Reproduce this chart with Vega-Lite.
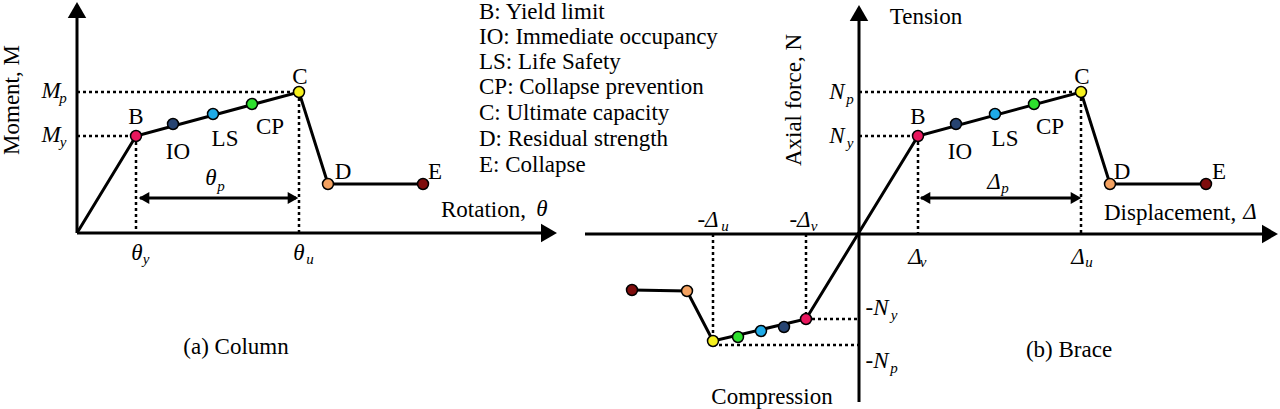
{
  "$schema": "https://vega.github.io/schema/vega-lite/v6.json",
  "width": 1280,
  "height": 409,
  "autosize": "none",
  "padding": 0,
  "background": "white",
  "config": {"view": {"stroke": null}, "text": {"font": "Times New Roman, Liberation Serif, serif"}},
  "datasets": {
    "curve": [
      {"series": "col", "order": 1, "x": 77, "y": 233},
      {"series": "col", "order": 2, "x": 136, "y": 136},
      {"series": "col", "order": 3, "x": 299, "y": 92},
      {"series": "col", "order": 4, "x": 328, "y": 184},
      {"series": "col", "order": 5, "x": 423, "y": 184},
      {"series": "brace", "order": 1, "x": 632, "y": 290},
      {"series": "brace", "order": 2, "x": 687, "y": 291},
      {"series": "brace", "order": 3, "x": 713, "y": 341},
      {"series": "brace", "order": 4, "x": 806, "y": 319},
      {"series": "brace", "order": 5, "x": 918, "y": 136},
      {"series": "brace", "order": 6, "x": 1081, "y": 92},
      {"series": "brace", "order": 7, "x": 1110, "y": 184},
      {"series": "brace", "order": 8, "x": 1206, "y": 184}
    ],
    "axes": [
      {"x": 77, "y": 233, "x2": 77, "y2": 14},
      {"x": 77, "y": 233, "x2": 545, "y2": 233},
      {"x": 585, "y": 234, "x2": 1266, "y2": 234},
      {"x": 859, "y": 402, "x2": 859, "y2": 16}
    ],
    "heads": [
      {"x": 77, "y": 10, "dir": "up"},
      {"x": 549, "y": 233, "dir": "right"},
      {"x": 859, "y": 13, "dir": "up"},
      {"x": 1270, "y": 234, "dir": "right"}
    ],
    "dotted": [
      {"x": 77, "y": 92, "x2": 299, "y2": 92},
      {"x": 77, "y": 136, "x2": 136, "y2": 136},
      {"x": 136, "y": 136, "x2": 136, "y2": 233},
      {"x": 299, "y": 92, "x2": 299, "y2": 233},
      {"x": 859, "y": 92, "x2": 1081, "y2": 92},
      {"x": 859, "y": 136, "x2": 918, "y2": 136},
      {"x": 918, "y": 136, "x2": 918, "y2": 234},
      {"x": 1081, "y": 92, "x2": 1081, "y2": 234},
      {"x": 713, "y": 234, "x2": 713, "y2": 341},
      {"x": 806, "y": 234, "x2": 806, "y2": 319},
      {"x": 806, "y": 319, "x2": 858, "y2": 319},
      {"x": 713, "y": 345, "x2": 858, "y2": 345}
    ],
    "dims": [
      {"x": 140, "y": 198, "x2": 296, "y2": 198},
      {"x": 921, "y": 198, "x2": 1078, "y2": 198}
    ],
    "dimheads": [
      {"x": 144, "y": 198, "dir": "left"},
      {"x": 293, "y": 198, "dir": "right"},
      {"x": 925, "y": 198, "dir": "left"},
      {"x": 1076, "y": 198, "dir": "right"}
    ],
    "points": [
      {"state": "B", "x": 136, "y": 136},
      {"state": "IO", "x": 173, "y": 124},
      {"state": "LS", "x": 213, "y": 114},
      {"state": "CP", "x": 252, "y": 104},
      {"state": "C", "x": 299, "y": 92},
      {"state": "D", "x": 328, "y": 184},
      {"state": "E", "x": 423, "y": 184},
      {"state": "B", "x": 918, "y": 136},
      {"state": "IO", "x": 956, "y": 124},
      {"state": "LS", "x": 995, "y": 114},
      {"state": "CP", "x": 1034, "y": 104},
      {"state": "C", "x": 1081, "y": 92},
      {"state": "D", "x": 1110, "y": 184},
      {"state": "E", "x": 1206, "y": 184},
      {"state": "E", "x": 632, "y": 290},
      {"state": "D", "x": 687, "y": 291},
      {"state": "C", "x": 713, "y": 341},
      {"state": "CP", "x": 738, "y": 337},
      {"state": "LS", "x": 761, "y": 331},
      {"state": "IO", "x": 784, "y": 327},
      {"state": "B", "x": 806, "y": 319}
    ],
    "labels": [
      {"x": 136, "y": 117, "text": "B"},
      {"x": 178, "y": 152, "text": "IO"},
      {"x": 225, "y": 139, "text": "LS"},
      {"x": 270, "y": 127, "text": "CP"},
      {"x": 300, "y": 77, "text": "C"},
      {"x": 343, "y": 172, "text": "D"},
      {"x": 435, "y": 172, "text": "E"},
      {"x": 918, "y": 117, "text": "B"},
      {"x": 960, "y": 152, "text": "IO"},
      {"x": 1005, "y": 139, "text": "LS"},
      {"x": 1050, "y": 127, "text": "CP"},
      {"x": 1082, "y": 77, "text": "C"},
      {"x": 1122, "y": 172, "text": "D"},
      {"x": 1219, "y": 172, "text": "E"},
      {"x": 236, "y": 347, "text": "(a) Column"},
      {"x": 1069, "y": 350, "text": "(b) Brace"},
      {"x": 926, "y": 17, "text": "Tension"},
      {"x": 772, "y": 397, "text": "Compression"}
    ],
    "leftText": [
      {"x": 479, "y": 12, "text": "B: Yield limit"},
      {"x": 479, "y": 37, "text": "IO: Immediate occupancy"},
      {"x": 479, "y": 62, "text": "LS: Life Safety"},
      {"x": 479, "y": 87, "text": "CP: Collapse prevention"},
      {"x": 479, "y": 113, "text": "C: Ultimate capacity"},
      {"x": 479, "y": 139, "text": "D: Residual strength"},
      {"x": 479, "y": 165, "text": "E: Collapse"},
      {"x": 441, "y": 210, "text": "Rotation,"},
      {"x": 1104, "y": 213, "text": "Displacement,"}
    ],
    "rotated": [
      {"x": 12, "y": 100, "text": "Moment, M"},
      {"x": 794, "y": 100, "text": "Axial force, N"}
    ],
    "symbols": [
      {"x": 51, "y": 91, "text": "M"},
      {"x": 51, "y": 135, "text": "M"},
      {"x": 137, "y": 253, "text": "θ"},
      {"x": 299, "y": 253, "text": "θ"},
      {"x": 211, "y": 178, "text": "θ"},
      {"x": 542, "y": 209, "text": "θ"},
      {"x": 837, "y": 92, "text": "N"},
      {"x": 837, "y": 136, "text": "N"},
      {"x": 915, "y": 257, "text": "Δ"},
      {"x": 1078, "y": 257, "text": "Δ"},
      {"x": 994, "y": 182, "text": "Δ"},
      {"x": 1250, "y": 212, "text": "Δ"},
      {"x": 708, "y": 220, "text": "-Δ"},
      {"x": 800, "y": 220, "text": "-Δ"},
      {"x": 877, "y": 308, "text": "-N"},
      {"x": 877, "y": 361, "text": "-N"}
    ],
    "subs": [
      {"x": 63, "y": 98, "text": "p"},
      {"x": 63, "y": 142, "text": "y"},
      {"x": 146, "y": 259, "text": "y"},
      {"x": 310, "y": 259, "text": "u"},
      {"x": 221, "y": 186, "text": "p"},
      {"x": 850, "y": 99, "text": "p"},
      {"x": 850, "y": 143, "text": "y"},
      {"x": 923, "y": 262, "text": "v"},
      {"x": 1089, "y": 262, "text": "u"},
      {"x": 1005, "y": 188, "text": "p"},
      {"x": 725, "y": 226, "text": "u"},
      {"x": 814, "y": 226, "text": "v"},
      {"x": 894, "y": 315, "text": "y"},
      {"x": 894, "y": 368, "text": "p"}
    ]
  },
  "encoding": {
    "x": {"field": "x", "type": "quantitative", "scale": {"domain": [0, 1280], "nice": false, "zero": false}, "axis": null},
    "y": {"field": "y", "type": "quantitative", "scale": {"domain": [0, 409], "nice": false, "zero": false, "reverse": true}, "axis": null}
  },
  "layer": [
    {
      "data": {"name": "dotted"},
      "mark": {"type": "rule", "color": "black", "strokeWidth": 2.5, "strokeDash": [3, 3]},
      "encoding": {"x2": {"field": "x2"}, "y2": {"field": "y2"}}
    },
    {
      "data": {"name": "axes"},
      "mark": {"type": "rule", "color": "black", "strokeWidth": 3},
      "encoding": {"x2": {"field": "x2"}, "y2": {"field": "y2"}}
    },
    {
      "data": {"name": "heads"},
      "mark": {"type": "point", "filled": true, "color": "black", "opacity": 1, "size": 340},
      "encoding": {
        "shape": {"field": "dir", "type": "nominal", "scale": {"domain": ["up", "right", "left"], "range": ["triangle-up", "triangle-right", "triangle-left"]}, "legend": null}
      }
    },
    {
      "data": {"name": "dims"},
      "mark": {"type": "rule", "color": "black", "strokeWidth": 3},
      "encoding": {"x2": {"field": "x2"}, "y2": {"field": "y2"}}
    },
    {
      "data": {"name": "dimheads"},
      "mark": {"type": "point", "filled": true, "color": "black", "opacity": 1, "size": 150},
      "encoding": {
        "shape": {"field": "dir", "type": "nominal", "scale": {"domain": ["up", "right", "left"], "range": ["triangle-up", "triangle-right", "triangle-left"]}, "legend": null}
      }
    },
    {
      "data": {"name": "curve"},
      "mark": {"type": "line", "color": "black", "strokeWidth": 3, "strokeJoin": "miter"},
      "encoding": {"detail": {"field": "series"}, "order": {"field": "order", "type": "quantitative"}}
    },
    {
      "data": {"name": "points"},
      "mark": {"type": "point", "filled": true, "opacity": 1, "shape": "circle", "size": 120, "stroke": "black", "strokeWidth": 1.5},
      "encoding": {
        "fill": {"field": "state", "type": "nominal", "scale": {"domain": ["B", "IO", "LS", "CP", "C", "D", "E"], "range": ["#e8175d", "#274472", "#1eaae7", "#2ee02e", "#f5f01e", "#f4a261", "#7f0d0d"]}, "legend": null}
      }
    },
    {
      "data": {"name": "labels"},
      "mark": {"type": "text", "fontSize": 23, "align": "center", "baseline": "middle", "color": "black"},
      "encoding": {"text": {"field": "text"}}
    },
    {
      "data": {"name": "leftText"},
      "mark": {"type": "text", "fontSize": 23, "align": "left", "baseline": "middle", "color": "black"},
      "encoding": {"text": {"field": "text"}}
    },
    {
      "data": {"name": "rotated"},
      "mark": {"type": "text", "fontSize": 23, "align": "center", "baseline": "middle", "angle": 270, "color": "black"},
      "encoding": {"text": {"field": "text"}}
    },
    {
      "data": {"name": "symbols"},
      "mark": {"type": "text", "fontSize": 23, "fontStyle": "italic", "align": "center", "baseline": "middle", "color": "black"},
      "encoding": {"text": {"field": "text"}}
    },
    {
      "data": {"name": "subs"},
      "mark": {"type": "text", "fontSize": 15, "fontStyle": "italic", "align": "center", "baseline": "middle", "color": "black"},
      "encoding": {"text": {"field": "text"}}
    }
  ]
}
